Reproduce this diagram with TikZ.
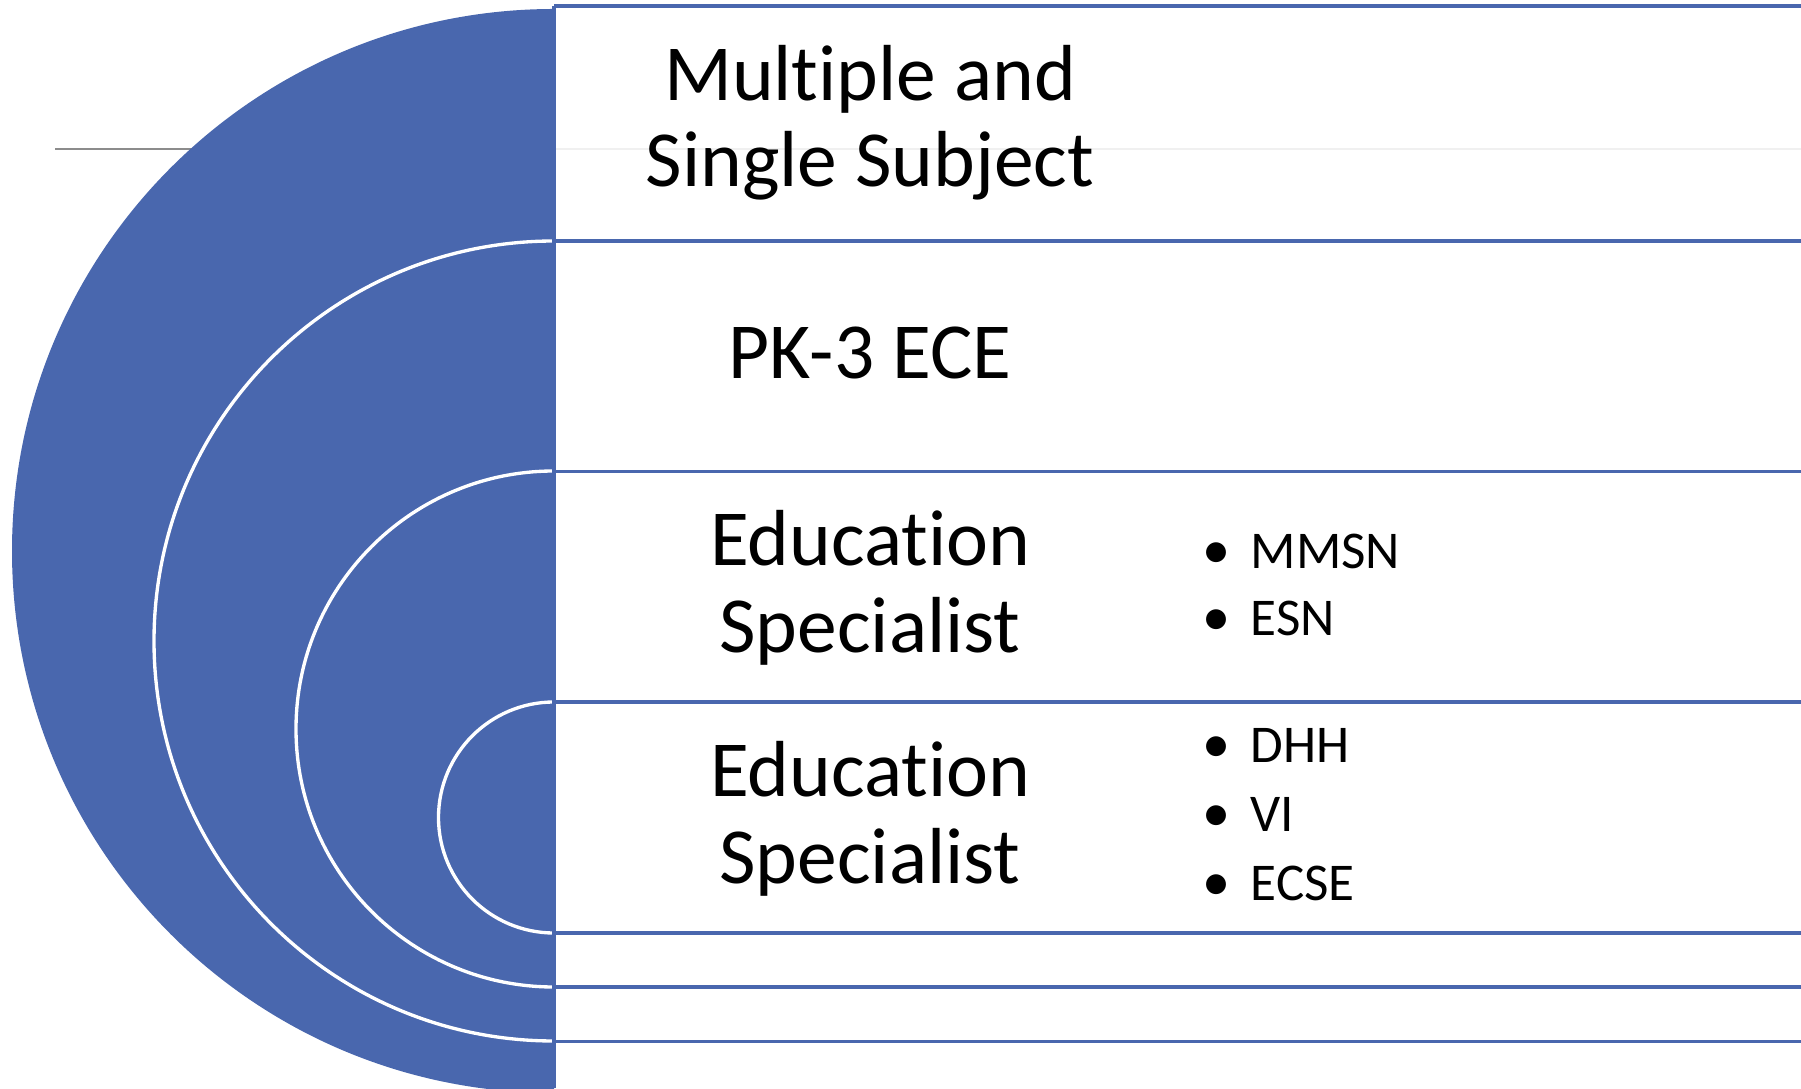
\documentclass[tikz,border=0pt]{standalone}
\usepackage{fontspec}
\setmainfont{Carlito}[RawFeature={-liga;-clig;-calt;-dlig}]
\definecolor{accblue}{HTML}{4967AE}
\begin{document}
\begin{tikzpicture}[x=0.01cm,y=0.01cm,
  bandline/.style={draw=accblue, line width=1.05pt},
  ring/.style={draw=white, line width=0.95pt},
  bigtext/.style={font=\fontsize{22.6}{26}\selectfont, inner sep=0pt, anchor=base},
  smalltext/.style={font=\fontsize{15.1}{17}\selectfont, inner sep=0pt, anchor=base west},
  bul/.style={font=\fontsize{16}{17}\selectfont, inner sep=0pt, anchor=base}]
\useasboundingbox (0,0) rectangle (1801,1088);
% guide lines
\draw[black!45, line width=0.7pt] (55,939) -- (300,939);
\draw[black!6, line width=0.6pt] (554,939) -- (1801,939);
% outer disc
\begin{scope}
\clip (0,0) rectangle (1801,1088);
\fill[accblue] (554,1079) arc[start angle=90, end angle=270, radius=542] -- cycle;
\end{scope}
% rings
\draw[ring] (554,847) arc[start angle=90, end angle=270, radius=400];
\draw[ring] (554,617) arc[start angle=90, end angle=270, radius=258];
\draw[ring] (554,386) arc[start angle=90, end angle=270, radius=115.5];
% band lines
\coordinate (v0) at (554,1082);
\coordinate (v1) at (554,0);
\foreach \n/\yy in {0/1082,1/847,2/616.5,3/386,4/155,5/101,6/46.5}{
  \coordinate (a\n) at (554,\yy);
  \coordinate (b\n) at (1801,\yy);
  \draw[bandline] (a\n) -- (b\n);
}
\draw[bandline] (v0) -- (v1);
% texts
\node[bigtext] (t1a) at (870,987) {Multiple and};
\node[bigtext] (t1b) at (870,901.3) {Single Subject};
\node[bigtext] (t2) at (870,709) {PK-3 ECE};
\node[bigtext] (t3a) at (870,522) {Education};
\node[bigtext] (t3b) at (870,435) {Specialist};
\node[bigtext] (t4a) at (870,291.5) {Education};
\node[bigtext] (t4b) at (870,204.5) {Specialist};
% bullets
\foreach \nm/\yy/\txt in {m1/519.7/MMSN, m2/452/ESN, m3/325/DHH, m4/256.3/VI, m5/188/ECSE}{
  \node[bul] (d\nm) at (1216,\yy) {•};
  \node[smalltext] (s\nm) at (1250,\yy) {\txt};
}
\end{tikzpicture}
\end{document}
